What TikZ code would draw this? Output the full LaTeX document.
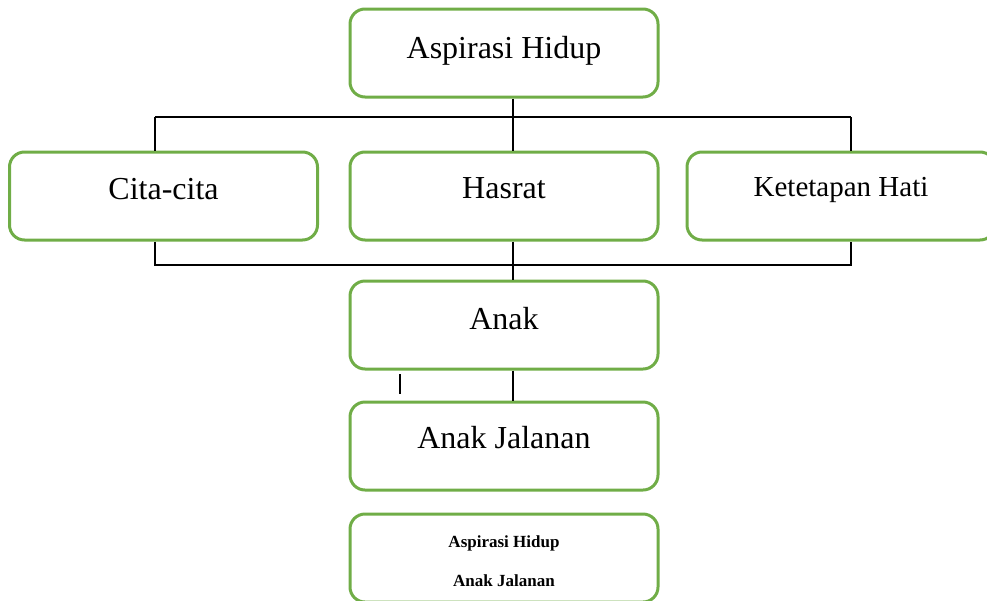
\documentclass[tikz,border=0pt]{standalone}
\usepackage{fontspec}
\setmainfont{Liberation Serif}
\definecolor{boxgreen}{RGB}{112,173,71}

\tikzset{
	box/.style={draw=boxgreen, line width=3pt, rounded corners=15pt,
		minimum width=308pt, minimum height=88pt, inner sep=0pt,
		font=\fontsize{32}{38}\selectfont},
	link/.style={line width=1.3pt}
}

\begin{document}
\begin{tikzpicture}[x=1pt, y=-1pt]
		\useasboundingbox (0, 0) rectangle (987, 600);

		\node[box] (aspirasi) at (504, 53) {\raisebox{11pt}{Aspirasi Hidup}};

		\node[box] (cita) at (163.5, 196) {\raisebox{15pt}{Cita-cita}};
		\node[box] (hasrat) at (504, 196) {\raisebox{15pt}{Hasrat}};
		\node[box, font=\fontsize{29}{34}\selectfont] (hati) at (841, 196) {\raisebox{19pt}{Ketetapan Hati}};

		\node[box] (anak) at (504, 325) {\raisebox{14pt}{Anak}};
		\node[box] (jalanan) at (504, 446) {\raisebox{18pt}{Anak Jalanan}};

		\node[box, align=center, font=\fontsize{17}{39}\selectfont\bfseries] (ringkas) at (504, 558) {\raisebox{0pt}[18pt]{Aspirasi Hidup}\\Anak Jalanan};

		\coordinate (hubtop) at (513, 117);
		\coordinate (lefttop) at (155, 117);
		\coordinate (righttop) at (851, 117);
		\coordinate (hubbot) at (513, 265);
		\coordinate (leftbot) at (155, 265);
		\coordinate (rightbot) at (851, 265);
		\coordinate (stray1) at (400, 374);
		\coordinate (stray2) at (400, 394);

		\draw[link] (aspirasi.south -| hubtop) -- (hubtop);
		\draw[link] (lefttop) -- (righttop);
		\draw[link] (lefttop) -- (lefttop |- cita.north);
		\draw[link] (hubtop) -- (hubtop |- hasrat.north);
		\draw[link] (righttop) -- (righttop |- hati.north);

		\draw[link] (leftbot |- cita.south) -- (leftbot) -- (rightbot) -- (rightbot |- hati.south);
		\draw[link] (hasrat.south -| hubbot) -- (anak.north -| hubbot);

		\draw[link] (anak.south -| hubbot) -- (jalanan.north -| hubbot);
		\draw[link] (stray1) -- (stray2);
	\end{tikzpicture}
\end{document}
